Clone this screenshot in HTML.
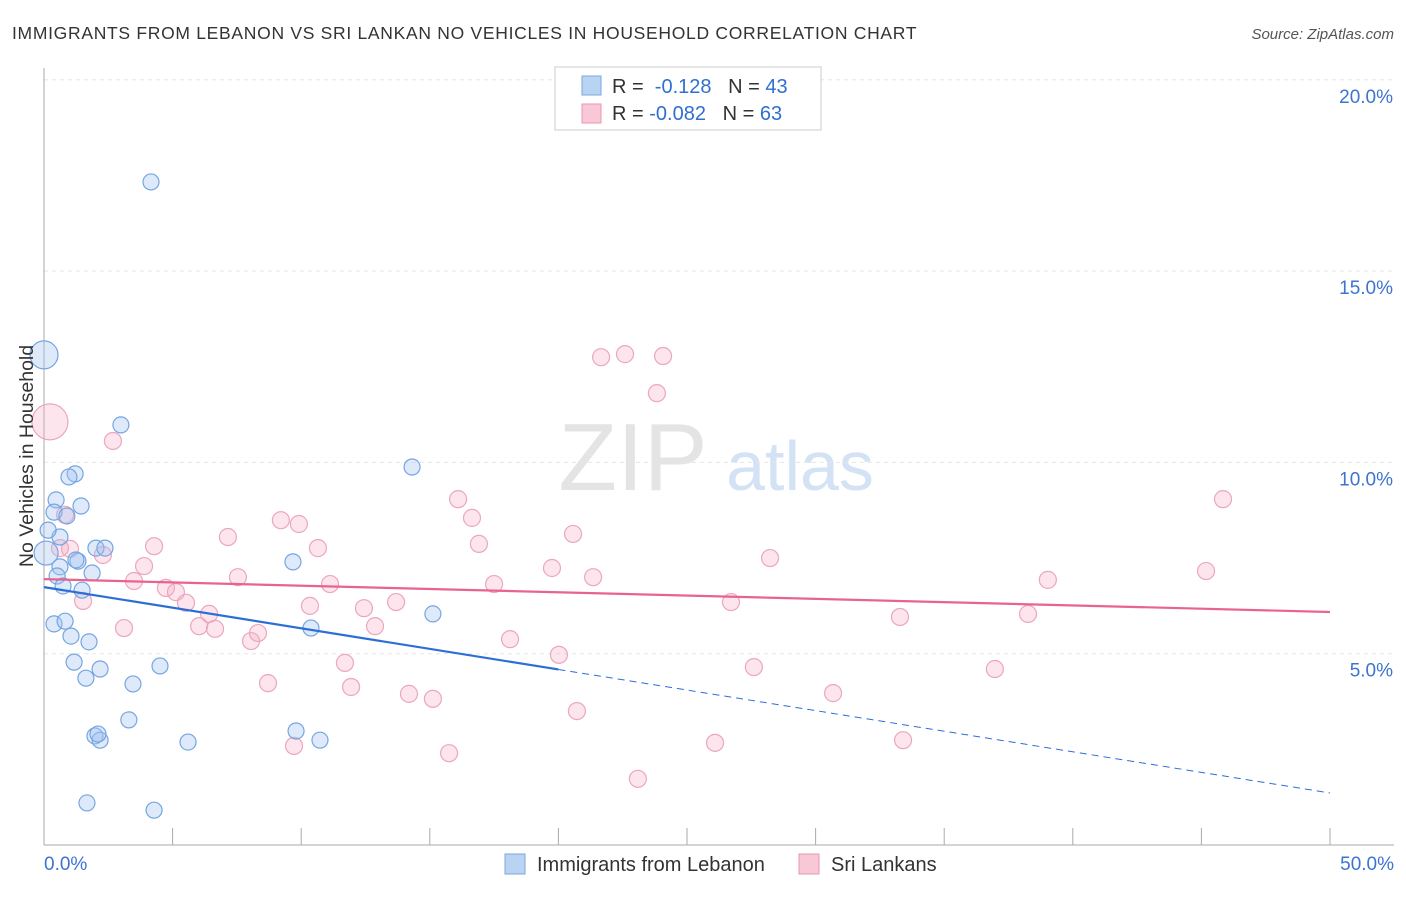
<!DOCTYPE html>
<html><head><meta charset="utf-8"><style>
body{margin:0;background:#fff;font-family:"Liberation Sans",sans-serif}
svg text{font-family:"Liberation Sans",sans-serif}
</style></head><body>
<svg width="1406" height="892" xmlns="http://www.w3.org/2000/svg">
<text x="12" y="39" font-size="17.5" letter-spacing="0.7" fill="#333">IMMIGRANTS FROM LEBANON VS SRI LANKAN NO VEHICLES IN HOUSEHOLD CORRELATION CHART</text>
<text x="1394" y="39" font-size="15" fill="#555" font-style="italic" text-anchor="end">Source: ZipAtlas.com</text>
<g><text x="633" y="490" font-size="96" font-family="Liberation Serif" fill="#e4e4e4" text-anchor="middle">ZIP</text><text x="800" y="490" font-size="70" fill="#d3e2f4" text-anchor="middle">atlas</text></g>
<g id="grid"></g><g id="axes"></g><g id="pts"></g><g id="lines"></g>
<text transform="translate(33,456) rotate(-90)" font-size="19.5" fill="#333" text-anchor="middle">No Vehicles in Household</text>
<g>
<rect x="555" y="67" width="266" height="63" fill="#fff" stroke="#ccc"/>
<rect x="582" y="76" width="19" height="19" fill="#b9d3f3" stroke="#7aa7e0"/>
<rect x="582" y="104" width="19" height="19" fill="#f8c8d6" stroke="#e996b0"/>
<text x="612" y="93" font-size="20" fill="#333">R = <tspan fill="#2f6fd0">&#160;-0.128</tspan>&#160;&#160;&#160;N = <tspan fill="#2f6fd0">43</tspan></text>
<text x="612" y="120" font-size="20" fill="#333">R = <tspan fill="#2f6fd0">-0.082</tspan>&#160;&#160;&#160;N = <tspan fill="#2f6fd0">63</tspan></text>
</g>
<g>
<rect x="505" y="854" width="20" height="20" fill="#b9d3f3" stroke="#7aa7e0"/>
<text x="537" y="871" font-size="20" fill="#333">Immigrants from Lebanon</text>
<rect x="799" y="854" width="20" height="20" fill="#f8c8d6" stroke="#e996b0"/>
<text x="831" y="871" font-size="20" fill="#333">Sri Lankans</text>
</g>
</svg>
<script>
const yTicks=[5,10,15,20];
const yTickLabels=["5.0%","10.0%","15.0%","20.0%"];
const xTickLabels=["0.0%","50.0%"];
const blueX=[4.16,0,2.99,14.31,1.21,0.97,0.47,1.44,0.39,0.89,0.62,2.02,0.08,1.32,0.62,1.87,0.51,0.74,1.48,9.68,0.39,0.82,10.38,15.12,1.05,1.75,1.17,2.18,4.51,1.63,3.46,3.30,9.80,1.98,2.18,2.10,5.60,10.73,1.67,4.28,0.16,1.24,2.37];
const blueY=[17.33,12.81,10.98,9.88,9.70,9.62,9.02,8.86,8.70,8.60,8.05,7.76,7.63,7.42,7.27,7.11,7.03,6.77,6.66,7.40,5.78,5.85,5.67,6.04,5.46,5.31,4.78,4.60,4.68,4.36,4.21,3.27,2.98,2.85,2.74,2.90,2.69,2.74,1.10,0.91,8.23,7.45,7.76];
const blueR=[8,14,8,8,8,8,8,8,8,8,8,8,12,8,8,8,8,8,8,8,8,8,8,8,8,8,8,8,8,8,8,8,8,8,8,8,8,8,8,8,8,8,8];
const pinkX=[0.23,2.68,21.66,22.59,24.07,23.83,16.10,16.64,45.84,0.82,9.21,9.91,7.15,20.57,4.28,10.65,16.91,1.01,2.29,28.23,3.89,19.75,45.18,21.35,7.54,3.50,39.03,4.74,11.12,17.50,5.13,5.52,1.52,10.34,12.44,13.69,26.71,6.42,33.28,38.26,6.03,3.11,12.87,6.65,8.05,8.32,18.12,20.02,11.70,27.60,36.97,8.71,11.94,14.19,15.12,30.68,20.72,26.09,33.40,9.72,15.75,23.09,0.62];
const pinkY=[11.06,10.56,12.75,12.83,12.78,11.81,9.04,8.55,9.04,8.63,8.49,8.39,8.05,8.13,7.81,7.76,7.87,7.74,7.58,7.50,7.29,7.24,7.16,7.00,7.00,6.90,6.93,6.72,6.82,6.82,6.61,6.33,6.38,6.25,6.19,6.35,6.35,6.04,5.96,6.04,5.72,5.67,5.72,5.65,5.33,5.54,5.38,4.97,4.76,4.65,4.60,4.23,4.13,3.95,3.82,3.97,3.50,2.67,2.74,2.59,2.40,1.73,7.76];
const pinkR=[18];
const blueTrend=[6.74,1.36];
const pinkTrend=[6.95,6.09];
const blueSolidEnd=20;
const X=v=>44+v/50*1286, Y=v=>845-v/5*191.3;
const NS="http://www.w3.org/2000/svg";
function mk(p,t,a){const e=document.createElementNS(NS,t);for(const k in a)e.setAttribute(k,a[k]);document.getElementById(p).appendChild(e);return e;}
yTicks.forEach((t,i)=>{
 const l=mk('grid','line',{x1:44,x2:1394,y1:Y(t),y2:Y(t),stroke:'#e6e6e6','stroke-dasharray':'4,4'});
 
 
 const tx=mk('axes','text',{x:1393,y:Y(t)+23,'font-size':19,fill:'#3d74cf','text-anchor':'end'});tx.textContent=yTickLabels[i];
 
 
});
const ax=mk('axes','line',{x1:44,x2:44,y1:68,y2:845,stroke:'#aaa'});


const bx=mk('axes','line',{x1:44,x2:1394,y1:845,y2:845,stroke:'#aaa'});


for(let i=1;i<=10;i++){const t=mk('axes','line',{x1:X(i*5),x2:X(i*5),y1:828,y2:845,stroke:'#aaa'});
 
 }
const xl0=mk('axes','text',{x:44,y:870,'font-size':19,fill:'#3d74cf'});xl0.textContent=xTickLabels[0];


const xl1=mk('axes','text',{x:1394,y:870,'font-size':19,fill:'#3d74cf','text-anchor':'end'});xl1.textContent=xTickLabels[1];


pinkX.forEach((v,i)=>{const c=mk('pts','circle',{cx:X(v),cy:Y(pinkY[i]),r:pinkR[i]||8.5,fill:'rgba(244,170,195,0.3)',stroke:'#eca6bd','stroke-width':1.2});
 
 });
blueX.forEach((v,i)=>{const c=mk('pts','circle',{cx:X(v),cy:Y(blueY[i]),r:blueR[i]||8.5,fill:'rgba(160,195,240,0.35)',stroke:'#75a5e2','stroke-width':1.2});
 
 });
const by=x=>blueTrend[0]+(blueTrend[1]-blueTrend[0])*x/50;
const l1=mk('lines','line',{x1:X(0),y1:Y(by(0)),x2:X(blueSolidEnd),y2:Y(by(blueSolidEnd)),stroke:'#2b6fd6','stroke-width':2.2});


const l2=mk('lines','line',{x1:X(blueSolidEnd),y1:Y(by(blueSolidEnd)),x2:X(50),y2:Y(by(50)),stroke:'#2b6fd6','stroke-width':1,'stroke-dasharray':'7,5'});


const l3=mk('lines','line',{x1:X(0),y1:Y(pinkTrend[0]),x2:X(50),y2:Y(pinkTrend[1]),stroke:'#e8648f','stroke-width':2.2});


</script>
</body></html>
